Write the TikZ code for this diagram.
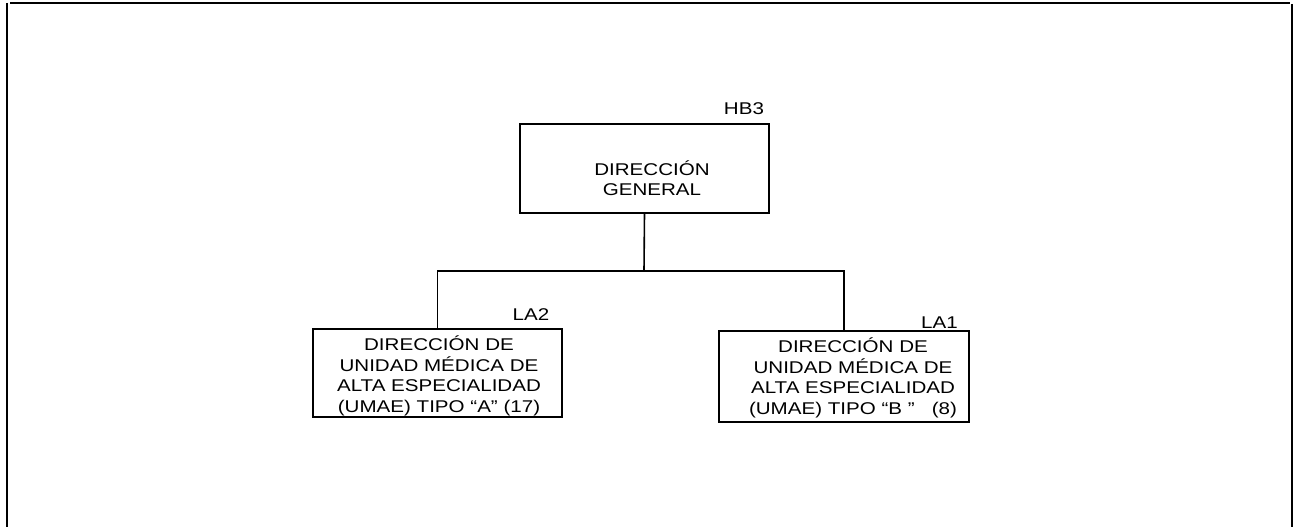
\documentclass[tikz,border=0pt]{standalone}
\usepackage{fontspec}
\setmainfont{Liberation Sans}
\usepackage{graphicx}
\newcommand{\wtxt}[1]{\scalebox{1.21}[1]{\fontsize{17}{20.3}\selectfont\begin{tabular}{@{}c@{}}#1\end{tabular}}}
\newcommand{\wlab}[1]{\scalebox{1.21}[1]{\fontsize{17}{20.3}\selectfont #1}}
\tikzset{
  box/.style={draw=black, line width=1.6pt, inner sep=0pt, outer sep=0pt},
  txt/.style={inner sep=0pt, outer sep=0pt},
  lab/.style={inner sep=0pt, outer sep=0pt, anchor=base},
  conn/.style={draw=black, line width=1.6pt},
  frame/.style={draw=black, line width=2pt}
}
\begin{document}
\begin{tikzpicture}[x=1pt, y={(0pt,-1pt)}]
\useasboundingbox (0,0) rectangle (1294,527);
% frame
\draw[frame] (10,3) -- (1290,3);
\draw[frame] (7,3) -- (7,527);
\draw[frame] (1292,4) -- (1292,527);
% boxes
\node[box, minimum width=249, minimum height=89] (dg) at (644.5,168.5) {};
\node[txt] (dgt) at (652,181) {\wtxt{DIRECCIÓN\\GENERAL}};
\node[lab] (hb3) at (744,114.5) {\wlab{HB3}};

\node[box, minimum width=249, minimum height=88] (la2) at (437.5,373) {};
\node[txt] (la2t) at (439,377) {\wtxt{DIRECCIÓN DE\\UNIDAD MÉDICA DE\\ALTA ESPECIALIDAD\\(UMAE) TIPO “A” (17)}};
\node[lab] (la2l) at (531,320) {\wlab{LA2}};

\node[box, minimum width=250, minimum height=91] (la1) at (844,376.5) {};
\node[txt] (la1t) at (853,379) {\wtxt{DIRECCIÓN DE\\UNIDAD MÉDICA DE\\ALTA ESPECIALIDAD\\(UMAE) TIPO “B ”\ \ \ (8)}};
\node[lab] (la1l) at (939.5,328) {\wlab{LA1}};
% connectors
\coordinate (j) at (644,271);
\draw[conn] (dg.south) -- (j);
\draw[conn] (la2.north) |- (j) -| (la1.north);
\end{tikzpicture}
\end{document}
